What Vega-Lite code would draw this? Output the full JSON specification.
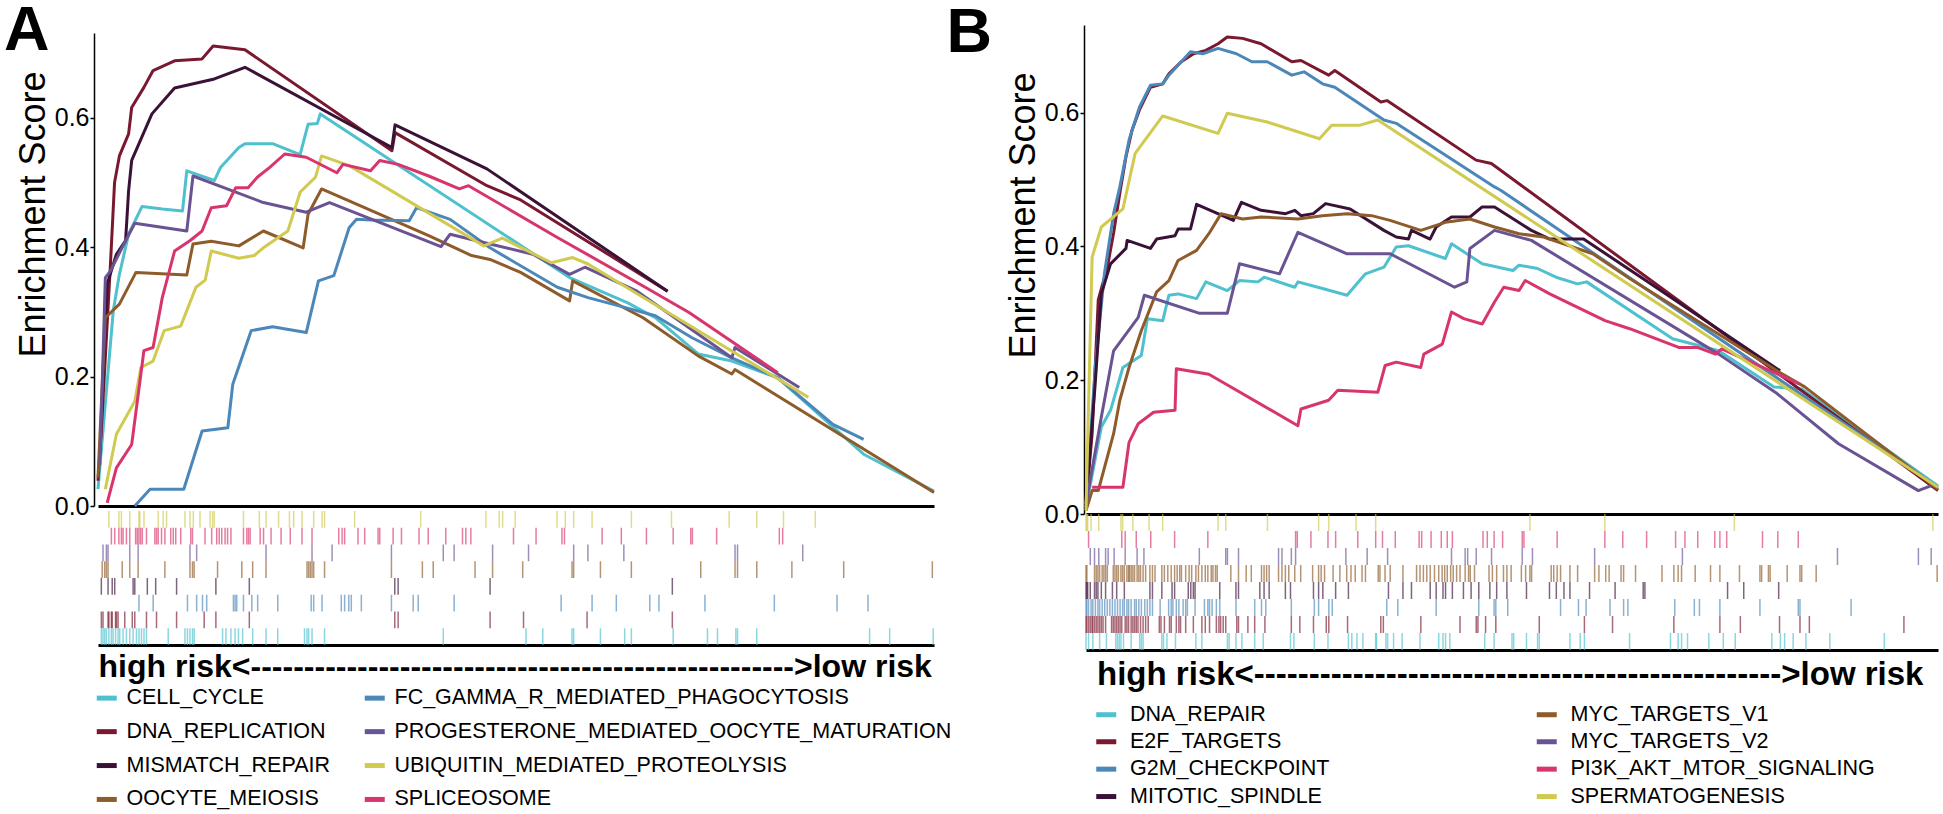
{
"$schema":"https://vega.github.io/schema/vega-lite/v6.json",
"padding":{"left":4,"top":0,"right":0,"bottom":0},
"background":"white",
"config":{"view":{"stroke":null},"font":"Liberation Sans","axis":{"domainColor":"black","tickColor":"black","labelColor":"black","titleColor":"black","grid":false}},
"datasets":{
"setsA":[{"k":"CC","set":"CELL_CYCLE"},{"k":"DR","set":"DNA_REPLICATION"},{"k":"MR","set":"MISMATCH_REPAIR"},{"k":"OM","set":"OOCYTE_MEIOSIS"},{"k":"FC","set":"FC_GAMMA_R_MEDIATED_PHAGOCYTOSIS"},{"k":"PM","set":"PROGESTERONE_MEDIATED_OOCYTE_MATURATION"},{"k":"UB","set":"UBIQUITIN_MEDIATED_PROTEOLYSIS"},{"k":"SP","set":"SPLICEOSOME"}],
"setsB":[{"k":"DN","set":"DNA_REPAIR"},{"k":"E2","set":"E2F_TARGETS"},{"k":"G2","set":"G2M_CHECKPOINT"},{"k":"MS","set":"MITOTIC_SPINDLE"},{"k":"M1","set":"MYC_TARGETS_V1"},{"k":"M2","set":"MYC_TARGETS_V2"},{"k":"PI","set":"PI3K_AKT_MTOR_SIGNALING"},{"k":"SG","set":"SPERMATOGENESIS"}],
"linesA":[
{"k":"CC","x":0,"y":0.026},{"k":"CC","x":1.83,"y":0.302},{"k":"CC","x":2.56,"y":0.358},{"k":"CC","x":3.66,"y":0.42},{"k":"CC","x":5.27,"y":0.463},{"k":"CC","x":7.69,"y":0.459},{"k":"CC","x":10.11,"y":0.456},{"k":"CC","x":10.62,"y":0.518},{"k":"CC","x":13.92,"y":0.503},{"k":"CC","x":14.65,"y":0.523},{"k":"CC","x":16.85,"y":0.554},{"k":"CC","x":17.58,"y":0.56},{"k":"CC","x":20.88,"y":0.56},{"k":"CC","x":24.18,"y":0.543},{"k":"CC","x":25.13,"y":0.59},{"k":"CC","x":26.23,"y":0.591},{"k":"CC","x":26.59,"y":0.606},{"k":"CC","x":56.41,"y":0.353},{"k":"CC","x":63.37,"y":0.314},{"k":"CC","x":66.67,"y":0.291},{"k":"CC","x":71.79,"y":0.235},{"k":"CC","x":75.82,"y":0.224},{"k":"CC","x":81.32,"y":0.198},{"k":"CC","x":91.58,"y":0.08},{"k":"CC","x":100,"y":0.023},
{"k":"DR","x":0,"y":0.039},{"k":"DR","x":0.37,"y":0.111},{"k":"DR","x":1.47,"y":0.369},{"k":"DR","x":1.98,"y":0.5},{"k":"DR","x":2.56,"y":0.541},{"k":"DR","x":3.66,"y":0.575},{"k":"DR","x":4.03,"y":0.616},{"k":"DR","x":5.49,"y":0.647},{"k":"DR","x":6.59,"y":0.673},{"k":"DR","x":9.16,"y":0.688},{"k":"DR","x":12.45,"y":0.691},{"k":"DR","x":13.77,"y":0.711},{"k":"DR","x":17.58,"y":0.705},{"k":"DR","x":35.16,"y":0.549},{"k":"DR","x":35.53,"y":0.577},{"k":"DR","x":46.52,"y":0.495},{"k":"DR","x":50.55,"y":0.473},{"k":"DR","x":68.13,"y":0.332},
{"k":"MR","x":0.22,"y":0.08},{"k":"MR","x":1.1,"y":0.343},{"k":"MR","x":2.2,"y":0.389},{"k":"MR","x":3.3,"y":0.41},{"k":"MR","x":3.66,"y":0.487},{"k":"MR","x":4.03,"y":0.534},{"k":"MR","x":6.45,"y":0.606},{"k":"MR","x":9.16,"y":0.646},{"k":"MR","x":13.92,"y":0.66},{"k":"MR","x":17.58,"y":0.678},{"k":"MR","x":35.16,"y":0.554},{"k":"MR","x":35.53,"y":0.589},{"k":"MR","x":46.52,"y":0.521},{"k":"MR","x":68.13,"y":0.332},
{"k":"OM","x":0,"y":0.044},{"k":"OM","x":0.88,"y":0.291},{"k":"OM","x":2.56,"y":0.312},{"k":"OM","x":4.54,"y":0.361},{"k":"OM","x":10.62,"y":0.357},{"k":"OM","x":11.36,"y":0.405},{"k":"OM","x":13.55,"y":0.409},{"k":"OM","x":16.85,"y":0.402},{"k":"OM","x":19.78,"y":0.425},{"k":"OM","x":24.54,"y":0.399},{"k":"OM","x":25.13,"y":0.451},{"k":"OM","x":26.74,"y":0.49},{"k":"OM","x":39.56,"y":0.418},{"k":"OM","x":44.69,"y":0.387},{"k":"OM","x":46.89,"y":0.381},{"k":"OM","x":50.55,"y":0.361},{"k":"OM","x":56.41,"y":0.317},{"k":"OM","x":56.78,"y":0.348},{"k":"OM","x":65.2,"y":0.291},{"k":"OM","x":71.79,"y":0.232},{"k":"OM","x":75.82,"y":0.204},{"k":"OM","x":76.19,"y":0.211},{"k":"OM","x":100,"y":0.021},
{"k":"FC","x":4.4,"y":0},{"k":"FC","x":6.23,"y":0.026},{"k":"FC","x":10.26,"y":0.026},{"k":"FC","x":12.45,"y":0.116},{"k":"FC","x":15.53,"y":0.121},{"k":"FC","x":16.12,"y":0.188},{"k":"FC","x":18.32,"y":0.271},{"k":"FC","x":20.88,"y":0.277},{"k":"FC","x":24.91,"y":0.268},{"k":"FC","x":26.37,"y":0.348},{"k":"FC","x":28.21,"y":0.356},{"k":"FC","x":30.04,"y":0.43},{"k":"FC","x":30.92,"y":0.443},{"k":"FC","x":32.6,"y":0.442},{"k":"FC","x":37.22,"y":0.441},{"k":"FC","x":38.1,"y":0.461},{"k":"FC","x":42.12,"y":0.443},{"k":"FC","x":46.89,"y":0.399},{"k":"FC","x":54.95,"y":0.338},{"k":"FC","x":58.61,"y":0.322},{"k":"FC","x":63.0,"y":0.307},{"k":"FC","x":66.67,"y":0.294},{"k":"FC","x":71.06,"y":0.26},{"k":"FC","x":75.82,"y":0.229},{"k":"FC","x":81.32,"y":0.198},{"k":"FC","x":87.91,"y":0.126},{"k":"FC","x":91.58,"y":0.103},
{"k":"PM","x":0.22,"y":0.064},{"k":"PM","x":0.88,"y":0.353},{"k":"PM","x":1.47,"y":0.363},{"k":"PM","x":3.3,"y":0.41},{"k":"PM","x":4.4,"y":0.437},{"k":"PM","x":10.62,"y":0.425},{"k":"PM","x":11.36,"y":0.51},{"k":"PM","x":19.78,"y":0.469},{"k":"PM","x":24.91,"y":0.454},{"k":"PM","x":27.69,"y":0.469},{"k":"PM","x":41.03,"y":0.401},{"k":"PM","x":42.12,"y":0.42},{"k":"PM","x":46.89,"y":0.405},{"k":"PM","x":52.01,"y":0.389},{"k":"PM","x":56.41,"y":0.358},{"k":"PM","x":58.24,"y":0.369},{"k":"PM","x":64.47,"y":0.332},{"k":"PM","x":75.82,"y":0.229},{"k":"PM","x":76.19,"y":0.245},{"k":"PM","x":83.88,"y":0.183},
{"k":"UB","x":0.88,"y":0.026},{"k":"UB","x":2.2,"y":0.111},{"k":"UB","x":4.4,"y":0.162},{"k":"UB","x":5.13,"y":0.214},{"k":"UB","x":6.59,"y":0.224},{"k":"UB","x":7.91,"y":0.271},{"k":"UB","x":9.89,"y":0.278},{"k":"UB","x":10.62,"y":0.302},{"k":"UB","x":11.72,"y":0.338},{"k":"UB","x":12.82,"y":0.349},{"k":"UB","x":13.55,"y":0.394},{"k":"UB","x":16.85,"y":0.383},{"k":"UB","x":18.68,"y":0.387},{"k":"UB","x":19.78,"y":0.399},{"k":"UB","x":22.71,"y":0.425},{"k":"UB","x":24.18,"y":0.485},{"k":"UB","x":26.01,"y":0.508},{"k":"UB","x":26.74,"y":0.541},{"k":"UB","x":30.04,"y":0.526},{"k":"UB","x":46.15,"y":0.402},{"k":"UB","x":48.35,"y":0.414},{"k":"UB","x":54.21,"y":0.376},{"k":"UB","x":56.78,"y":0.384},{"k":"UB","x":58.61,"y":0.374},{"k":"UB","x":84.98,"y":0.168},
{"k":"SP","x":1.1,"y":0.005},{"k":"SP","x":2.2,"y":0.059},{"k":"SP","x":4.03,"y":0.095},{"k":"SP","x":5.49,"y":0.24},{"k":"SP","x":6.59,"y":0.245},{"k":"SP","x":7.69,"y":0.322},{"k":"SP","x":9.16,"y":0.394},{"k":"SP","x":10.99,"y":0.41},{"k":"SP","x":12.45,"y":0.425},{"k":"SP","x":13.55,"y":0.461},{"k":"SP","x":15.38,"y":0.464},{"k":"SP","x":16.48,"y":0.492},{"k":"SP","x":17.95,"y":0.492},{"k":"SP","x":19.05,"y":0.508},{"k":"SP","x":20.51,"y":0.523},{"k":"SP","x":22.34,"y":0.544},{"k":"SP","x":24.91,"y":0.539},{"k":"SP","x":28.57,"y":0.515},{"k":"SP","x":29.3,"y":0.528},{"k":"SP","x":32.6,"y":0.518},{"k":"SP","x":33.7,"y":0.534},{"k":"SP","x":35.9,"y":0.528},{"k":"SP","x":39.56,"y":0.51},{"k":"SP","x":43.22,"y":0.49},{"k":"SP","x":44.32,"y":0.495},{"k":"SP","x":54.95,"y":0.415},{"k":"SP","x":65.2,"y":0.34},{"k":"SP","x":70.7,"y":0.299},{"k":"SP","x":81.32,"y":0.206}
],
"linesB":[
{"k":"DN","x":0,"y":0.01},{"k":"DN","x":1.8,"y":0.13},{"k":"DN","x":2.88,"y":0.155},{"k":"DN","x":4.33,"y":0.219},{"k":"DN","x":6.49,"y":0.237},{"k":"DN","x":7.21,"y":0.292},{"k":"DN","x":9.01,"y":0.289},{"k":"DN","x":9.73,"y":0.327},{"k":"DN","x":10.81,"y":0.329},{"k":"DN","x":12.98,"y":0.322},{"k":"DN","x":14.06,"y":0.347},{"k":"DN","x":16.58,"y":0.334},{"k":"DN","x":18.02,"y":0.349},{"k":"DN","x":20.19,"y":0.347},{"k":"DN","x":20.91,"y":0.354},{"k":"DN","x":24.51,"y":0.339},{"k":"DN","x":24.87,"y":0.347},{"k":"DN","x":27.76,"y":0.337},{"k":"DN","x":30.64,"y":0.327},{"k":"DN","x":32.8,"y":0.359},{"k":"DN","x":34.97,"y":0.369},{"k":"DN","x":36.41,"y":0.399},{"k":"DN","x":37.85,"y":0.401},{"k":"DN","x":42.18,"y":0.382},{"k":"DN","x":42.9,"y":0.404},{"k":"DN","x":46.5,"y":0.374},{"k":"DN","x":50.11,"y":0.364},{"k":"DN","x":50.83,"y":0.372},{"k":"DN","x":52.99,"y":0.367},{"k":"DN","x":55.16,"y":0.354},{"k":"DN","x":57.68,"y":0.344},{"k":"DN","x":58.76,"y":0.347},{"k":"DN","x":68.85,"y":0.262},{"k":"DN","x":74.26,"y":0.244},{"k":"DN","x":80.75,"y":0.19},{"k":"DN","x":84.0,"y":0.187},{"k":"DN","x":100,"y":0.042},
{"k":"E2","x":0,"y":0.015},{"k":"E2","x":0.72,"y":0.12},{"k":"E2","x":1.44,"y":0.32},{"k":"E2","x":2.52,"y":0.37},{"k":"E2","x":3.24,"y":0.42},{"k":"E2","x":3.97,"y":0.48},{"k":"E2","x":4.69,"y":0.534},{"k":"E2","x":5.41,"y":0.574},{"k":"E2","x":6.27,"y":0.604},{"k":"E2","x":7.57,"y":0.638},{"k":"E2","x":9.01,"y":0.643},{"k":"E2","x":9.73,"y":0.658},{"k":"E2","x":11.18,"y":0.676},{"k":"E2","x":12.62,"y":0.688},{"k":"E2","x":14.06,"y":0.693},{"k":"E2","x":15.5,"y":0.703},{"k":"E2","x":16.58,"y":0.713},{"k":"E2","x":18.38,"y":0.711},{"k":"E2","x":20.55,"y":0.703},{"k":"E2","x":24.15,"y":0.676},{"k":"E2","x":25.23,"y":0.678},{"k":"E2","x":28.48,"y":0.656},{"k":"E2","x":29.2,"y":0.663},{"k":"E2","x":34.61,"y":0.616},{"k":"E2","x":35.33,"y":0.618},{"k":"E2","x":45.78,"y":0.529},{"k":"E2","x":47.58,"y":0.524},{"k":"E2","x":100,"y":0.035},
{"k":"G2","x":0,"y":0.015},{"k":"G2","x":1.08,"y":0.219},{"k":"G2","x":2.16,"y":0.359},{"k":"G2","x":3.24,"y":0.449},{"k":"G2","x":3.97,"y":0.489},{"k":"G2","x":5.05,"y":0.559},{"k":"G2","x":6.27,"y":0.608},{"k":"G2","x":7.57,"y":0.641},{"k":"G2","x":9.01,"y":0.643},{"k":"G2","x":9.73,"y":0.656},{"k":"G2","x":11.18,"y":0.676},{"k":"G2","x":12.26,"y":0.691},{"k":"G2","x":13.7,"y":0.688},{"k":"G2","x":15.5,"y":0.696},{"k":"G2","x":17.66,"y":0.688},{"k":"G2","x":19.47,"y":0.676},{"k":"G2","x":21.27,"y":0.676},{"k":"G2","x":24.15,"y":0.656},{"k":"G2","x":25.59,"y":0.661},{"k":"G2","x":27.76,"y":0.643},{"k":"G2","x":29.2,"y":0.638},{"k":"G2","x":34.97,"y":0.589},{"k":"G2","x":36.41,"y":0.584},{"k":"G2","x":47.95,"y":0.489},{"k":"G2","x":48.67,"y":0.484},{"k":"G2","x":100,"y":0.04},
{"k":"MS","x":0,"y":0.015},{"k":"MS","x":1.08,"y":0.195},{"k":"MS","x":1.8,"y":0.329},{"k":"MS","x":2.88,"y":0.374},{"k":"MS","x":4.69,"y":0.397},{"k":"MS","x":4.83,"y":0.409},{"k":"MS","x":7.57,"y":0.397},{"k":"MS","x":8.29,"y":0.411},{"k":"MS","x":10.45,"y":0.416},{"k":"MS","x":10.81,"y":0.426},{"k":"MS","x":12.26,"y":0.426},{"k":"MS","x":12.98,"y":0.463},{"k":"MS","x":17.3,"y":0.439},{"k":"MS","x":18.24,"y":0.466},{"k":"MS","x":20.55,"y":0.454},{"k":"MS","x":23.43,"y":0.449},{"k":"MS","x":24.51,"y":0.454},{"k":"MS","x":25.23,"y":0.446},{"k":"MS","x":26.68,"y":0.449},{"k":"MS","x":28.12,"y":0.464},{"k":"MS","x":31.0,"y":0.456},{"k":"MS","x":34.97,"y":0.424},{"k":"MS","x":36.41,"y":0.414},{"k":"MS","x":37.85,"y":0.411},{"k":"MS","x":38.21,"y":0.424},{"k":"MS","x":40.38,"y":0.411},{"k":"MS","x":41.1,"y":0.429},{"k":"MS","x":42.9,"y":0.444},{"k":"MS","x":45.06,"y":0.444},{"k":"MS","x":46.5,"y":0.459},{"k":"MS","x":47.95,"y":0.459},{"k":"MS","x":52.27,"y":0.424},{"k":"MS","x":54.43,"y":0.411},{"k":"MS","x":58.4,"y":0.411},{"k":"MS","x":65.97,"y":0.347},{"k":"MS","x":81.47,"y":0.214},
{"k":"M1","x":0,"y":0.005},{"k":"M1","x":0.72,"y":0.035},{"k":"M1","x":1.44,"y":0.035},{"k":"M1","x":3.24,"y":0.12},{"k":"M1","x":3.97,"y":0.17},{"k":"M1","x":5.05,"y":0.219},{"k":"M1","x":6.49,"y":0.274},{"k":"M1","x":8.29,"y":0.332},{"k":"M1","x":9.73,"y":0.349},{"k":"M1","x":10.81,"y":0.379},{"k":"M1","x":12.98,"y":0.394},{"k":"M1","x":14.42,"y":0.419},{"k":"M1","x":15.86,"y":0.449},{"k":"M1","x":18.38,"y":0.441},{"k":"M1","x":20.55,"y":0.444},{"k":"M1","x":24.87,"y":0.441},{"k":"M1","x":27.76,"y":0.446},{"k":"M1","x":30.64,"y":0.449},{"k":"M1","x":33.53,"y":0.446},{"k":"M1","x":35.69,"y":0.439},{"k":"M1","x":39.29,"y":0.424},{"k":"M1","x":42.18,"y":0.436},{"k":"M1","x":45.06,"y":0.441},{"k":"M1","x":47.95,"y":0.429},{"k":"M1","x":50.83,"y":0.419},{"k":"M1","x":53.71,"y":0.414},{"k":"M1","x":59.48,"y":0.389},{"k":"M1","x":63.81,"y":0.352},{"k":"M1","x":81.11,"y":0.214},{"k":"M1","x":84.36,"y":0.19},{"k":"M1","x":100,"y":0.037},
{"k":"M2","x":0,"y":0.015},{"k":"M2","x":1.8,"y":0.145},{"k":"M2","x":3.24,"y":0.244},{"k":"M2","x":6.13,"y":0.294},{"k":"M2","x":6.85,"y":0.327},{"k":"M2","x":13.34,"y":0.3},{"k":"M2","x":16.58,"y":0.3},{"k":"M2","x":18.02,"y":0.374},{"k":"M2","x":22.71,"y":0.359},{"k":"M2","x":24.87,"y":0.421},{"k":"M2","x":30.64,"y":0.389},{"k":"M2","x":35.69,"y":0.389},{"k":"M2","x":43.26,"y":0.339},{"k":"M2","x":44.7,"y":0.347},{"k":"M2","x":45.06,"y":0.397},{"k":"M2","x":47.95,"y":0.424},{"k":"M2","x":52.27,"y":0.409},{"k":"M2","x":74.26,"y":0.239},{"k":"M2","x":81.11,"y":0.18},{"k":"M2","x":88.32,"y":0.105},{"k":"M2","x":97.69,"y":0.035},{"k":"M2","x":99.14,"y":0.042},
{"k":"PI","x":0.72,"y":0.04},{"k":"PI","x":4.33,"y":0.04},{"k":"PI","x":5.05,"y":0.107},{"k":"PI","x":6.13,"y":0.135},{"k":"PI","x":7.93,"y":0.152},{"k":"PI","x":10.45,"y":0.155},{"k":"PI","x":10.6,"y":0.217},{"k":"PI","x":14.42,"y":0.209},{"k":"PI","x":24.87,"y":0.132},{"k":"PI","x":25.23,"y":0.157},{"k":"PI","x":28.48,"y":0.17},{"k":"PI","x":29.56,"y":0.185},{"k":"PI","x":34.25,"y":0.182},{"k":"PI","x":35.11,"y":0.222},{"k":"PI","x":36.41,"y":0.227},{"k":"PI","x":39.29,"y":0.219},{"k":"PI","x":39.65,"y":0.239},{"k":"PI","x":41.82,"y":0.254},{"k":"PI","x":42.9,"y":0.302},{"k":"PI","x":44.34,"y":0.292},{"k":"PI","x":46.5,"y":0.284},{"k":"PI","x":47.95,"y":0.317},{"k":"PI","x":49.03,"y":0.339},{"k":"PI","x":50.83,"y":0.334},{"k":"PI","x":51.55,"y":0.349},{"k":"PI","x":54.43,"y":0.329},{"k":"PI","x":60.92,"y":0.289},{"k":"PI","x":63.81,"y":0.277},{"k":"PI","x":69.57,"y":0.249},{"k":"PI","x":71.74,"y":0.249},{"k":"PI","x":73.9,"y":0.239},{"k":"PI","x":74.62,"y":0.247},{"k":"PI","x":83.63,"y":0.195},
{"k":"SG","x":0,"y":0.005},{"k":"SG","x":0.72,"y":0.384},{"k":"SG","x":1.8,"y":0.429},{"k":"SG","x":4.33,"y":0.456},{"k":"SG","x":5.77,"y":0.539},{"k":"SG","x":9.01,"y":0.595},{"k":"SG","x":15.5,"y":0.569},{"k":"SG","x":16.58,"y":0.599},{"k":"SG","x":21.27,"y":0.586},{"k":"SG","x":27.4,"y":0.561},{"k":"SG","x":28.84,"y":0.581},{"k":"SG","x":32.08,"y":0.581},{"k":"SG","x":34.25,"y":0.589},{"k":"SG","x":100,"y":0.04}
],
"rugA":[
{"k":"UB","x":1.3},{"k":"UB","x":2.5},{"k":"UB","x":2.8},{"k":"UB","x":3.8},{"k":"UB","x":4.9},{"k":"UB","x":5.0},{"k":"UB","x":5.5},{"k":"UB","x":7.2},{"k":"UB","x":7.8},{"k":"UB","x":8.2},{"k":"UB","x":10.4},{"k":"UB","x":11.0},{"k":"UB","x":11.4},{"k":"UB","x":12.2},{"k":"UB","x":13.4},{"k":"UB","x":13.7},{"k":"UB","x":13.9},{"k":"UB","x":17.4},{"k":"UB","x":19.3},{"k":"UB","x":20.1},{"k":"UB","x":21.6},{"k":"UB","x":22.9},{"k":"UB","x":23.4},{"k":"UB","x":24.4},{"k":"UB","x":25.8},{"k":"UB","x":26.8},{"k":"UB","x":27.1},{"k":"UB","x":30.7},{"k":"UB","x":38.6},{"k":"UB","x":46.4},{"k":"UB","x":48.0},{"k":"UB","x":48.4},{"k":"UB","x":49.9},{"k":"UB","x":54.9},{"k":"UB","x":55.9},{"k":"UB","x":56.9},{"k":"UB","x":59.1},{"k":"UB","x":63.8},{"k":"UB","x":68.6},{"k":"UB","x":75.5},{"k":"UB","x":78.8},{"k":"UB","x":82.0},{"k":"UB","x":85.8},
{"k":"SP","x":1.6},{"k":"SP","x":2.0},{"k":"SP","x":2.5},{"k":"SP","x":2.8},{"k":"SP","x":3.0},{"k":"SP","x":3.4},{"k":"SP","x":3.8},{"k":"SP","x":4.5},{"k":"SP","x":4.7},{"k":"SP","x":4.9},{"k":"SP","x":5.1},{"k":"SP","x":5.3},{"k":"SP","x":5.8},{"k":"SP","x":6.8},{"k":"SP","x":7.0},{"k":"SP","x":7.2},{"k":"SP","x":7.6},{"k":"SP","x":8.0},{"k":"SP","x":8.7},{"k":"SP","x":9.0},{"k":"SP","x":9.3},{"k":"SP","x":9.9},{"k":"SP","x":11.1},{"k":"SP","x":11.3},{"k":"SP","x":12.8},{"k":"SP","x":13.6},{"k":"SP","x":14.2},{"k":"SP","x":14.5},{"k":"SP","x":14.8},{"k":"SP","x":15.2},{"k":"SP","x":15.5},{"k":"SP","x":15.9},{"k":"SP","x":17.4},{"k":"SP","x":17.8},{"k":"SP","x":18.0},{"k":"SP","x":18.2},{"k":"SP","x":19.4},{"k":"SP","x":19.8},{"k":"SP","x":20.7},{"k":"SP","x":21.9},{"k":"SP","x":23.0},{"k":"SP","x":24.4},{"k":"SP","x":25.6},{"k":"SP","x":28.8},{"k":"SP","x":29.2},{"k":"SP","x":29.5},{"k":"SP","x":31.1},{"k":"SP","x":31.9},{"k":"SP","x":33.5},{"k":"SP","x":33.7},{"k":"SP","x":35.3},{"k":"SP","x":36.3},{"k":"SP","x":38.4},{"k":"SP","x":39.5},{"k":"SP","x":41.6},{"k":"SP","x":43.6},{"k":"SP","x":44.0},{"k":"SP","x":44.6},{"k":"SP","x":49.7},{"k":"SP","x":52.4},{"k":"SP","x":55.5},{"k":"SP","x":55.8},{"k":"SP","x":60.3},{"k":"SP","x":62.6},{"k":"SP","x":65.6},{"k":"SP","x":68.8},{"k":"SP","x":70.9},{"k":"SP","x":71.1},{"k":"SP","x":74.0},{"k":"SP","x":81.5},{"k":"SP","x":81.9},
{"k":"PM","x":0.6},{"k":"PM","x":1.0},{"k":"PM","x":1.2},{"k":"PM","x":3.8},{"k":"PM","x":4.8},{"k":"PM","x":11.0},{"k":"PM","x":11.8},{"k":"PM","x":20.1},{"k":"PM","x":25.6},{"k":"PM","x":28.0},{"k":"PM","x":35.1},{"k":"PM","x":41.3},{"k":"PM","x":42.6},{"k":"PM","x":47.2},{"k":"PM","x":51.5},{"k":"PM","x":56.9},{"k":"PM","x":58.6},{"k":"PM","x":62.9},{"k":"PM","x":76.2},{"k":"PM","x":76.5},{"k":"PM","x":84.3},
{"k":"OM","x":0.5},{"k":"OM","x":0.8},{"k":"OM","x":1.0},{"k":"OM","x":1.2},{"k":"OM","x":2.9},{"k":"OM","x":3.8},{"k":"OM","x":4.8},{"k":"OM","x":8.0},{"k":"OM","x":11.0},{"k":"OM","x":11.3},{"k":"OM","x":11.5},{"k":"OM","x":14.3},{"k":"OM","x":17.2},{"k":"OM","x":18.5},{"k":"OM","x":20.1},{"k":"OM","x":25.0},{"k":"OM","x":25.2},{"k":"OM","x":25.4},{"k":"OM","x":25.6},{"k":"OM","x":25.8},{"k":"OM","x":27.1},{"k":"OM","x":35.1},{"k":"OM","x":38.8},{"k":"OM","x":40.1},{"k":"OM","x":45.1},{"k":"OM","x":47.2},{"k":"OM","x":50.8},{"k":"OM","x":56.7},{"k":"OM","x":56.9},{"k":"OM","x":60.1},{"k":"OM","x":63.8},{"k":"OM","x":72.1},{"k":"OM","x":76.2},{"k":"OM","x":76.5},{"k":"OM","x":78.8},{"k":"OM","x":83.0},{"k":"OM","x":89.2},{"k":"OM","x":99.8},
{"k":"MR","x":0.4},{"k":"MR","x":1.2},{"k":"MR","x":1.7},{"k":"MR","x":2.0},{"k":"MR","x":4.2},{"k":"MR","x":4.4},{"k":"MR","x":5.9},{"k":"MR","x":6.9},{"k":"MR","x":9.4},{"k":"MR","x":14.1},{"k":"MR","x":18.1},{"k":"MR","x":35.5},{"k":"MR","x":35.9},{"k":"MR","x":46.9},{"k":"MR","x":68.7},
{"k":"FC","x":4.9},{"k":"FC","x":6.6},{"k":"FC","x":10.7},{"k":"FC","x":11.8},{"k":"FC","x":12.5},{"k":"FC","x":13.0},{"k":"FC","x":16.2},{"k":"FC","x":16.4},{"k":"FC","x":16.6},{"k":"FC","x":17.4},{"k":"FC","x":18.4},{"k":"FC","x":19.1},{"k":"FC","x":21.5},{"k":"FC","x":25.5},{"k":"FC","x":25.8},{"k":"FC","x":26.8},{"k":"FC","x":29.1},{"k":"FC","x":29.5},{"k":"FC","x":30.0},{"k":"FC","x":30.3},{"k":"FC","x":31.5},{"k":"FC","x":35.1},{"k":"FC","x":37.7},{"k":"FC","x":38.3},{"k":"FC","x":42.6},{"k":"FC","x":55.4},{"k":"FC","x":59.1},{"k":"FC","x":62.0},{"k":"FC","x":66.0},{"k":"FC","x":67.1},{"k":"FC","x":72.6},{"k":"FC","x":80.9},{"k":"FC","x":88.4},{"k":"FC","x":92.1},
{"k":"DR","x":0.4},{"k":"DR","x":0.6},{"k":"DR","x":1.2},{"k":"DR","x":1.3},{"k":"DR","x":1.6},{"k":"DR","x":1.7},{"k":"DR","x":2.1},{"k":"DR","x":2.2},{"k":"DR","x":2.4},{"k":"DR","x":3.2},{"k":"DR","x":4.1},{"k":"DR","x":4.4},{"k":"DR","x":5.8},{"k":"DR","x":7.0},{"k":"DR","x":9.4},{"k":"DR","x":12.7},{"k":"DR","x":14.1},{"k":"DR","x":18.1},{"k":"DR","x":35.5},{"k":"DR","x":35.9},{"k":"DR","x":46.9},{"k":"DR","x":50.9},{"k":"DR","x":58.5},{"k":"DR","x":68.7},
{"k":"CC","x":0.4},{"k":"CC","x":0.6},{"k":"CC","x":0.8},{"k":"CC","x":1.0},{"k":"CC","x":1.3},{"k":"CC","x":1.6},{"k":"CC","x":1.8},{"k":"CC","x":2.1},{"k":"CC","x":2.4},{"k":"CC","x":2.6},{"k":"CC","x":3.0},{"k":"CC","x":3.4},{"k":"CC","x":3.8},{"k":"CC","x":4.2},{"k":"CC","x":4.6},{"k":"CC","x":4.9},{"k":"CC","x":5.2},{"k":"CC","x":5.5},{"k":"CC","x":5.8},{"k":"CC","x":8.4},{"k":"CC","x":10.4},{"k":"CC","x":10.7},{"k":"CC","x":11.0},{"k":"CC","x":11.3},{"k":"CC","x":11.5},{"k":"CC","x":14.9},{"k":"CC","x":15.3},{"k":"CC","x":15.9},{"k":"CC","x":16.4},{"k":"CC","x":16.8},{"k":"CC","x":17.3},{"k":"CC","x":18.5},{"k":"CC","x":20.1},{"k":"CC","x":21.5},{"k":"CC","x":24.7},{"k":"CC","x":25.0},{"k":"CC","x":25.2},{"k":"CC","x":25.6},{"k":"CC","x":27.1},{"k":"CC","x":41.3},{"k":"CC","x":51.2},{"k":"CC","x":53.2},{"k":"CC","x":56.7},{"k":"CC","x":56.9},{"k":"CC","x":60.1},{"k":"CC","x":63.0},{"k":"CC","x":63.8},{"k":"CC","x":68.8},{"k":"CC","x":72.9},{"k":"CC","x":74.1},{"k":"CC","x":76.3},{"k":"CC","x":76.5},{"k":"CC","x":78.8},{"k":"CC","x":92.3},{"k":"CC","x":94.7},{"k":"CC","x":99.9}
],
"rugB":[
{"k":"SG","x":0.0},{"k":"SG","x":0.1},{"k":"SG","x":0.2},{"k":"SG","x":0.6},{"k":"SG","x":1.5},{"k":"SG","x":4.1},{"k":"SG","x":4.3},{"k":"SG","x":5.5},{"k":"SG","x":7.4},{"k":"SG","x":9.0},{"k":"SG","x":15.5},{"k":"SG","x":16.4},{"k":"SG","x":21.3},{"k":"SG","x":27.3},{"k":"SG","x":28.5},{"k":"SG","x":31.7},{"k":"SG","x":34.0},{"k":"SG","x":52.1},{"k":"SG","x":60.9},{"k":"SG","x":76.1},{"k":"SG","x":99.4},
{"k":"PI","x":0.3},{"k":"PI","x":4.2},{"k":"PI","x":4.6},{"k":"PI","x":5.9},{"k":"PI","x":7.6},{"k":"PI","x":10.4},{"k":"PI","x":14.3},{"k":"PI","x":24.6},{"k":"PI","x":24.8},{"k":"PI","x":26.4},{"k":"PI","x":28.4},{"k":"PI","x":29.3},{"k":"PI","x":31.9},{"k":"PI","x":34.0},{"k":"PI","x":34.8},{"k":"PI","x":36.3},{"k":"PI","x":39.1},{"k":"PI","x":39.4},{"k":"PI","x":40.5},{"k":"PI","x":41.7},{"k":"PI","x":42.4},{"k":"PI","x":43.0},{"k":"PI","x":46.6},{"k":"PI","x":47.1},{"k":"PI","x":47.9},{"k":"PI","x":48.9},{"k":"PI","x":51.2},{"k":"PI","x":51.4},{"k":"PI","x":55.3},{"k":"PI","x":60.9},{"k":"PI","x":63.0},{"k":"PI","x":65.8},{"k":"PI","x":69.2},{"k":"PI","x":70.3},{"k":"PI","x":71.8},{"k":"PI","x":73.8},{"k":"PI","x":74.4},{"k":"PI","x":75.2},{"k":"PI","x":79.4},{"k":"PI","x":81.2},{"k":"PI","x":83.6},
{"k":"M2","x":0.5},{"k":"M2","x":1.0},{"k":"M2","x":1.5},{"k":"M2","x":2.3},{"k":"M2","x":2.6},{"k":"M2","x":3.3},{"k":"M2","x":4.6},{"k":"M2","x":6.0},{"k":"M2","x":6.8},{"k":"M2","x":13.3},{"k":"M2","x":16.4},{"k":"M2","x":16.6},{"k":"M2","x":17.9},{"k":"M2","x":22.6},{"k":"M2","x":23.0},{"k":"M2","x":24.1},{"k":"M2","x":24.6},{"k":"M2","x":30.5},{"k":"M2","x":33.0},{"k":"M2","x":35.4},{"k":"M2","x":42.9},{"k":"M2","x":44.5},{"k":"M2","x":44.8},{"k":"M2","x":45.8},{"k":"M2","x":47.6},{"k":"M2","x":51.2},{"k":"M2","x":52.4},{"k":"M2","x":59.7},{"k":"M2","x":70.0},{"k":"M2","x":88.2},{"k":"M2","x":97.7},{"k":"M2","x":99.2},
{"k":"M1","x":0.0},{"k":"M1","x":0.1},{"k":"M1","x":1.0},{"k":"M1","x":1.2},{"k":"M1","x":1.4},{"k":"M1","x":1.6},{"k":"M1","x":1.9},{"k":"M1","x":2.1},{"k":"M1","x":2.3},{"k":"M1","x":2.5},{"k":"M1","x":3.2},{"k":"M1","x":3.4},{"k":"M1","x":3.6},{"k":"M1","x":3.8},{"k":"M1","x":4.1},{"k":"M1","x":4.3},{"k":"M1","x":4.5},{"k":"M1","x":4.8},{"k":"M1","x":5.0},{"k":"M1","x":5.1},{"k":"M1","x":5.3},{"k":"M1","x":5.5},{"k":"M1","x":5.7},{"k":"M1","x":6.0},{"k":"M1","x":6.2},{"k":"M1","x":6.4},{"k":"M1","x":6.7},{"k":"M1","x":7.0},{"k":"M1","x":7.5},{"k":"M1","x":7.8},{"k":"M1","x":8.1},{"k":"M1","x":8.9},{"k":"M1","x":9.2},{"k":"M1","x":9.6},{"k":"M1","x":10.0},{"k":"M1","x":10.4},{"k":"M1","x":10.7},{"k":"M1","x":11.0},{"k":"M1","x":11.2},{"k":"M1","x":11.7},{"k":"M1","x":12.1},{"k":"M1","x":12.4},{"k":"M1","x":12.9},{"k":"M1","x":13.2},{"k":"M1","x":13.6},{"k":"M1","x":14.0},{"k":"M1","x":14.3},{"k":"M1","x":14.7},{"k":"M1","x":14.9},{"k":"M1","x":15.2},{"k":"M1","x":15.4},{"k":"M1","x":17.0},{"k":"M1","x":17.9},{"k":"M1","x":18.8},{"k":"M1","x":19.4},{"k":"M1","x":20.6},{"k":"M1","x":20.9},{"k":"M1","x":21.2},{"k":"M1","x":21.5},{"k":"M1","x":22.6},{"k":"M1","x":23.0},{"k":"M1","x":23.4},{"k":"M1","x":23.8},{"k":"M1","x":24.5},{"k":"M1","x":25.2},{"k":"M1","x":26.6},{"k":"M1","x":27.3},{"k":"M1","x":27.6},{"k":"M1","x":28.0},{"k":"M1","x":29.0},{"k":"M1","x":29.8},{"k":"M1","x":30.6},{"k":"M1","x":31.1},{"k":"M1","x":31.6},{"k":"M1","x":32.4},{"k":"M1","x":32.8},{"k":"M1","x":34.3},{"k":"M1","x":34.5},{"k":"M1","x":35.1},{"k":"M1","x":35.7},{"k":"M1","x":37.2},{"k":"M1","x":38.8},{"k":"M1","x":39.2},{"k":"M1","x":39.6},{"k":"M1","x":40.0},{"k":"M1","x":40.4},{"k":"M1","x":40.9},{"k":"M1","x":41.4},{"k":"M1","x":41.8},{"k":"M1","x":42.1},{"k":"M1","x":42.4},{"k":"M1","x":42.8},{"k":"M1","x":43.1},{"k":"M1","x":43.5},{"k":"M1","x":43.9},{"k":"M1","x":44.5},{"k":"M1","x":44.9},{"k":"M1","x":45.1},{"k":"M1","x":45.6},{"k":"M1","x":47.3},{"k":"M1","x":47.7},{"k":"M1","x":48.2},{"k":"M1","x":49.0},{"k":"M1","x":49.4},{"k":"M1","x":49.9},{"k":"M1","x":51.1},{"k":"M1","x":51.6},{"k":"M1","x":52.1},{"k":"M1","x":52.3},{"k":"M1","x":54.6},{"k":"M1","x":54.9},{"k":"M1","x":55.3},{"k":"M1","x":55.7},{"k":"M1","x":56.8},{"k":"M1","x":57.7},{"k":"M1","x":59.7},{"k":"M1","x":60.2},{"k":"M1","x":61.0},{"k":"M1","x":61.4},{"k":"M1","x":62.8},{"k":"M1","x":63.1},{"k":"M1","x":64.5},{"k":"M1","x":67.6},{"k":"M1","x":69.0},{"k":"M1","x":69.5},{"k":"M1","x":69.9},{"k":"M1","x":71.5},{"k":"M1","x":73.3},{"k":"M1","x":74.4},{"k":"M1","x":76.7},{"k":"M1","x":79.1},{"k":"M1","x":79.3},{"k":"M1","x":80.1},{"k":"M1","x":80.3},{"k":"M1","x":82.3},{"k":"M1","x":83.8},{"k":"M1","x":84.0},{"k":"M1","x":85.7},{"k":"M1","x":99.9},
{"k":"MS","x":0.0},{"k":"MS","x":0.1},{"k":"MS","x":0.2},{"k":"MS","x":0.5},{"k":"MS","x":1.0},{"k":"MS","x":1.2},{"k":"MS","x":1.4},{"k":"MS","x":1.8},{"k":"MS","x":2.3},{"k":"MS","x":3.1},{"k":"MS","x":3.6},{"k":"MS","x":4.5},{"k":"MS","x":7.5},{"k":"MS","x":7.8},{"k":"MS","x":8.9},{"k":"MS","x":10.1},{"k":"MS","x":10.4},{"k":"MS","x":12.0},{"k":"MS","x":12.3},{"k":"MS","x":12.6},{"k":"MS","x":12.8},{"k":"MS","x":15.7},{"k":"MS","x":17.6},{"k":"MS","x":17.9},{"k":"MS","x":20.4},{"k":"MS","x":20.9},{"k":"MS","x":21.5},{"k":"MS","x":23.4},{"k":"MS","x":24.0},{"k":"MS","x":26.7},{"k":"MS","x":27.3},{"k":"MS","x":27.8},{"k":"MS","x":29.3},{"k":"MS","x":30.8},{"k":"MS","x":35.5},{"k":"MS","x":37.2},{"k":"MS","x":38.2},{"k":"MS","x":40.4},{"k":"MS","x":41.1},{"k":"MS","x":41.9},{"k":"MS","x":42.2},{"k":"MS","x":43.0},{"k":"MS","x":44.3},{"k":"MS","x":45.2},{"k":"MS","x":46.1},{"k":"MS","x":47.4},{"k":"MS","x":48.2},{"k":"MS","x":49.4},{"k":"MS","x":51.7},{"k":"MS","x":54.4},{"k":"MS","x":55.2},{"k":"MS","x":56.1},{"k":"MS","x":56.8},{"k":"MS","x":59.1},{"k":"MS","x":62.1},{"k":"MS","x":65.4},{"k":"MS","x":65.6},{"k":"MS","x":75.3},{"k":"MS","x":77.2},{"k":"MS","x":81.3},
{"k":"G2","x":0.0},{"k":"G2","x":0.1},{"k":"G2","x":0.3},{"k":"G2","x":0.6},{"k":"G2","x":0.8},{"k":"G2","x":1.1},{"k":"G2","x":1.4},{"k":"G2","x":1.6},{"k":"G2","x":1.9},{"k":"G2","x":2.2},{"k":"G2","x":2.5},{"k":"G2","x":2.8},{"k":"G2","x":3.1},{"k":"G2","x":3.4},{"k":"G2","x":3.7},{"k":"G2","x":4.0},{"k":"G2","x":4.3},{"k":"G2","x":4.5},{"k":"G2","x":4.8},{"k":"G2","x":5.0},{"k":"G2","x":5.3},{"k":"G2","x":5.7},{"k":"G2","x":5.9},{"k":"G2","x":6.2},{"k":"G2","x":6.5},{"k":"G2","x":6.9},{"k":"G2","x":7.2},{"k":"G2","x":7.5},{"k":"G2","x":7.8},{"k":"G2","x":8.7},{"k":"G2","x":9.7},{"k":"G2","x":10.0},{"k":"G2","x":10.2},{"k":"G2","x":10.6},{"k":"G2","x":10.9},{"k":"G2","x":11.4},{"k":"G2","x":11.7},{"k":"G2","x":11.9},{"k":"G2","x":12.8},{"k":"G2","x":13.9},{"k":"G2","x":14.3},{"k":"G2","x":14.5},{"k":"G2","x":14.8},{"k":"G2","x":15.3},{"k":"G2","x":15.7},{"k":"G2","x":17.6},{"k":"G2","x":19.8},{"k":"G2","x":20.6},{"k":"G2","x":21.1},{"k":"G2","x":24.1},{"k":"G2","x":26.8},{"k":"G2","x":27.3},{"k":"G2","x":28.5},{"k":"G2","x":28.9},{"k":"G2","x":35.3},{"k":"G2","x":36.6},{"k":"G2","x":41.1},{"k":"G2","x":46.1},{"k":"G2","x":47.9},{"k":"G2","x":48.1},{"k":"G2","x":49.5},{"k":"G2","x":55.7},{"k":"G2","x":57.8},{"k":"G2","x":58.7},{"k":"G2","x":61.5},{"k":"G2","x":63.1},{"k":"G2","x":63.6},{"k":"G2","x":69.1},{"k":"G2","x":71.4},{"k":"G2","x":72.0},{"k":"G2","x":74.4},{"k":"G2","x":79.1},{"k":"G2","x":83.6},{"k":"G2","x":83.8},{"k":"G2","x":89.8},
{"k":"E2","x":0.0},{"k":"E2","x":0.1},{"k":"E2","x":0.3},{"k":"E2","x":0.5},{"k":"E2","x":0.7},{"k":"E2","x":0.8},{"k":"E2","x":1.0},{"k":"E2","x":1.2},{"k":"E2","x":1.4},{"k":"E2","x":1.6},{"k":"E2","x":1.8},{"k":"E2","x":2.0},{"k":"E2","x":2.3},{"k":"E2","x":3.0},{"k":"E2","x":3.2},{"k":"E2","x":3.4},{"k":"E2","x":3.6},{"k":"E2","x":3.8},{"k":"E2","x":4.0},{"k":"E2","x":4.2},{"k":"E2","x":4.6},{"k":"E2","x":4.8},{"k":"E2","x":5.0},{"k":"E2","x":5.3},{"k":"E2","x":5.5},{"k":"E2","x":5.7},{"k":"E2","x":5.9},{"k":"E2","x":6.1},{"k":"E2","x":6.4},{"k":"E2","x":6.7},{"k":"E2","x":7.0},{"k":"E2","x":7.3},{"k":"E2","x":8.6},{"k":"E2","x":8.8},{"k":"E2","x":9.2},{"k":"E2","x":9.8},{"k":"E2","x":10.0},{"k":"E2","x":10.6},{"k":"E2","x":10.9},{"k":"E2","x":11.1},{"k":"E2","x":11.7},{"k":"E2","x":12.6},{"k":"E2","x":13.6},{"k":"E2","x":14.0},{"k":"E2","x":14.5},{"k":"E2","x":15.3},{"k":"E2","x":15.6},{"k":"E2","x":15.8},{"k":"E2","x":16.1},{"k":"E2","x":16.4},{"k":"E2","x":17.7},{"k":"E2","x":17.9},{"k":"E2","x":19.0},{"k":"E2","x":19.8},{"k":"E2","x":21.0},{"k":"E2","x":24.1},{"k":"E2","x":25.1},{"k":"E2","x":26.7},{"k":"E2","x":28.2},{"k":"E2","x":28.5},{"k":"E2","x":30.7},{"k":"E2","x":34.6},{"k":"E2","x":34.9},{"k":"E2","x":39.3},{"k":"E2","x":43.9},{"k":"E2","x":45.8},{"k":"E2","x":46.0},{"k":"E2","x":46.9},{"k":"E2","x":48.1},{"k":"E2","x":53.2},{"k":"E2","x":58.5},{"k":"E2","x":61.8},{"k":"E2","x":69.0},{"k":"E2","x":74.4},{"k":"E2","x":76.8},{"k":"E2","x":81.4},{"k":"E2","x":83.8},{"k":"E2","x":84.9},{"k":"E2","x":96.0},
{"k":"DN","x":0.0},{"k":"DN","x":0.3},{"k":"DN","x":0.8},{"k":"DN","x":1.6},{"k":"DN","x":2.4},{"k":"DN","x":3.5},{"k":"DN","x":3.7},{"k":"DN","x":3.9},{"k":"DN","x":4.1},{"k":"DN","x":4.4},{"k":"DN","x":5.3},{"k":"DN","x":6.3},{"k":"DN","x":6.5},{"k":"DN","x":6.7},{"k":"DN","x":8.9},{"k":"DN","x":9.1},{"k":"DN","x":9.5},{"k":"DN","x":10.5},{"k":"DN","x":12.9},{"k":"DN","x":13.6},{"k":"DN","x":16.6},{"k":"DN","x":16.8},{"k":"DN","x":17.6},{"k":"DN","x":18.3},{"k":"DN","x":19.8},{"k":"DN","x":20.8},{"k":"DN","x":24.0},{"k":"DN","x":24.4},{"k":"DN","x":26.8},{"k":"DN","x":28.4},{"k":"DN","x":30.8},{"k":"DN","x":31.2},{"k":"DN","x":31.8},{"k":"DN","x":32.5},{"k":"DN","x":34.0},{"k":"DN","x":34.1},{"k":"DN","x":35.2},{"k":"DN","x":35.4},{"k":"DN","x":36.1},{"k":"DN","x":37.1},{"k":"DN","x":39.2},{"k":"DN","x":41.4},{"k":"DN","x":41.9},{"k":"DN","x":42.2},{"k":"DN","x":42.7},{"k":"DN","x":46.8},{"k":"DN","x":47.9},{"k":"DN","x":50.0},{"k":"DN","x":50.2},{"k":"DN","x":51.7},{"k":"DN","x":53.0},{"k":"DN","x":53.2},{"k":"DN","x":56.8},{"k":"DN","x":58.0},{"k":"DN","x":58.5},{"k":"DN","x":63.8},{"k":"DN","x":68.6},{"k":"DN","x":69.5},{"k":"DN","x":69.9},{"k":"DN","x":70.6},{"k":"DN","x":73.1},{"k":"DN","x":74.8},{"k":"DN","x":76.2},{"k":"DN","x":80.5},{"k":"DN","x":81.5},{"k":"DN","x":82.0},{"k":"DN","x":83.0},{"k":"DN","x":84.5},{"k":"DN","x":87.3},{"k":"DN","x":93.7}
]
},
"hconcat":[
{
"vconcat":[
{
"width":836,"height":3,
"data":{"values":[]},
"mark":"point"
},
{
"width":836,"height":473,
"title":{"text":"A","anchor":"start","frame":"group","fontSize":63,"fontWeight":"bold","baseline":"top","offset":-30.4,"dx":-94,"color":"black"},
"data":{"name":"linesA"},
"mark":{"type":"line","strokeWidth":3,"strokeJoin":"round"},
"encoding":{
"x":{"field":"x","type":"quantitative","scale":{"domain":[0,100],"nice":false,"zero":false},"axis":{"domain":true,"domainWidth":3,"ticks":false,"labels":false,"title":null}},
"y":{"field":"y","type":"quantitative","scale":{"domain":[0,0.731],"nice":false},"axis":{"values":[0,0.2,0.4,0.6],"format":".1f","offset":4,"domainWidth":1.5,"tickSize":4,"tickWidth":1.5,"labelFontSize":25,"labelPadding":1,"title":"Enrichment Score","titleFontSize":36,"titleFontWeight":"normal","titlePadding":2,"titleY":181}},
"color":{"field":"k","type":"nominal","scale":{"domain":["CC","DR","MR","OM","FC","PM","UB","SP"],"range":["#4FC0CE","#7A1830","#3B1237","#8E5B2A","#4B87B8","#6A5393","#D0CA50","#D8356E"]},"legend":null}
}
},
{
"width":836,"height":134,
"data":{"name":"rugA"},
"transform":[{"lookup":"k","from":{"data":{"name":"setsA"},"key":"k","fields":["set"]}}],
"mark":{"type":"tick","thickness":1.5,"size":16.75,"opacity":0.65},
"encoding":{
"x":{"field":"x","type":"quantitative","scale":{"domain":[0,100],"nice":false,"zero":false},"axis":{"domain":true,"domainWidth":3,"ticks":false,"labels":false,"title":"high risk<--------------------------------------------------->low risk","titleFontSize":32,"titleFontWeight":"bold","titleAnchor":"start","titleAlign":"left","titleBaseline":"top","titlePadding":6,"titleLimit":2000}},
"y":{"field":"k","type":"nominal","scale":{"domain":["UB","SP","PM","OM","MR","FC","DR","CC"],"paddingInner":0,"paddingOuter":0},"axis":null},
"color":{"field":"set","type":"nominal","scale":{"domain":["CELL_CYCLE","DNA_REPLICATION","MISMATCH_REPAIR","OOCYTE_MEIOSIS","FC_GAMMA_R_MEDIATED_PHAGOCYTOSIS","PROGESTERONE_MEDIATED_OOCYTE_MATURATION","UBIQUITIN_MEDIATED_PROTEOLYSIS","SPLICEOSOME"],"range":["#4FC0CE","#7A1830","#3B1237","#8E5B2A","#4B87B8","#6A5393","#D0CA50","#D8356E"]},
"legend":{"title":null,"orient":"none","legendX":-2,"legendY":176,"columns":2,"columnPadding":34,"rowPadding":10.9,"symbolType":"M-1,-0.25H1V0.25H-1Z","symbolSize":400,"symbolStrokeWidth":0,"symbolOpacity":1,"labelFont":"Liberation Sans","labelFontSize":21.5,"labelColor":"black","labelOffset":9,"labelLimit":1000,"padding":0}}
}
}
],
"spacing":5,"bounds":"flush",
"resolve":{"scale":{"color":"independent"},"legend":{"color":"independent"}}
},
{
"vconcat":[
{
"width":852,"height":489,
"title":{"text":"B","anchor":"start","frame":"group","fontSize":63,"fontWeight":"bold","baseline":"top","offset":-40.4,"dx":-139.5,"color":"black"},
"data":{"name":"linesB"},
"mark":{"type":"line","strokeWidth":3,"strokeJoin":"round"},
"encoding":{
"x":{"field":"x","type":"quantitative","scale":{"domain":[0,100],"nice":false,"zero":false},"axis":{"domain":true,"domainWidth":3,"ticks":false,"labels":false,"title":null}},
"y":{"field":"y","type":"quantitative","scale":{"domain":[0,0.731],"nice":false},"axis":{"values":[0,0.2,0.4,0.6],"format":".1f","offset":2,"domainWidth":1.5,"tickSize":4,"tickWidth":1.5,"labelFontSize":25,"labelPadding":1,"title":"Enrichment Score","titleFontSize":36,"titleFontWeight":"normal","titlePadding":2,"titleY":190}},
"color":{"field":"k","type":"nominal","scale":{"domain":["DN","E2","G2","MS","M1","M2","PI","SG"],"range":["#4FC0CE","#7A1830","#4B87B8","#3B1237","#8E5B2A","#6A5393","#D8356E","#D0CA50"]},"legend":null}
}
},
{
"width":852,"height":136,
"data":{"name":"rugB"},
"transform":[{"lookup":"k","from":{"data":{"name":"setsB"},"key":"k","fields":["set"]}}],
"mark":{"type":"tick","thickness":1.5,"size":17,"opacity":0.65},
"encoding":{
"x":{"field":"x","type":"quantitative","scale":{"domain":[0,100],"nice":false,"zero":false},"axis":{"domain":true,"domainWidth":3,"ticks":false,"labels":false,"title":"high risk<------------------------------------------------>low risk","titleFontSize":33,"titleFontWeight":"bold","titleAnchor":"start","titleAlign":"left","titleBaseline":"top","titlePadding":8,"titleX":10.5,"titleLimit":2000}},
"y":{"field":"k","type":"nominal","scale":{"domain":["SG","PI","M2","M1","MS","G2","E2","DN"],"paddingInner":0,"paddingOuter":0},"axis":null},
"color":{"field":"set","type":"nominal","scale":{"domain":["DNA_REPAIR","E2F_TARGETS","G2M_CHECKPOINT","MITOTIC_SPINDLE","MYC_TARGETS_V1","MYC_TARGETS_V2","PI3K_AKT_MTOR_SIGNALING","SPERMATOGENESIS"],"range":["#4FC0CE","#7A1830","#4B87B8","#3B1237","#8E5B2A","#6A5393","#D8356E","#D0CA50"]},
"legend":{"title":null,"orient":"none","legendX":9.5,"legendY":189.6,"columns":2,"columnPadding":205.5,"rowPadding":4.4,"symbolType":"M-1,-0.25H1V0.25H-1Z","symbolSize":400,"symbolStrokeWidth":0,"symbolOpacity":1,"labelFont":"Liberation Sans","labelFontSize":21.5,"labelColor":"black","labelOffset":13,"labelLimit":1000,"padding":0}}
}
}
],
"spacing":0,"bounds":"flush",
"resolve":{"scale":{"color":"independent"},"legend":{"color":"independent"}}
}
],
"spacing":-6,
"resolve":{"scale":{"color":"independent"},"legend":{"color":"independent"}}
}
